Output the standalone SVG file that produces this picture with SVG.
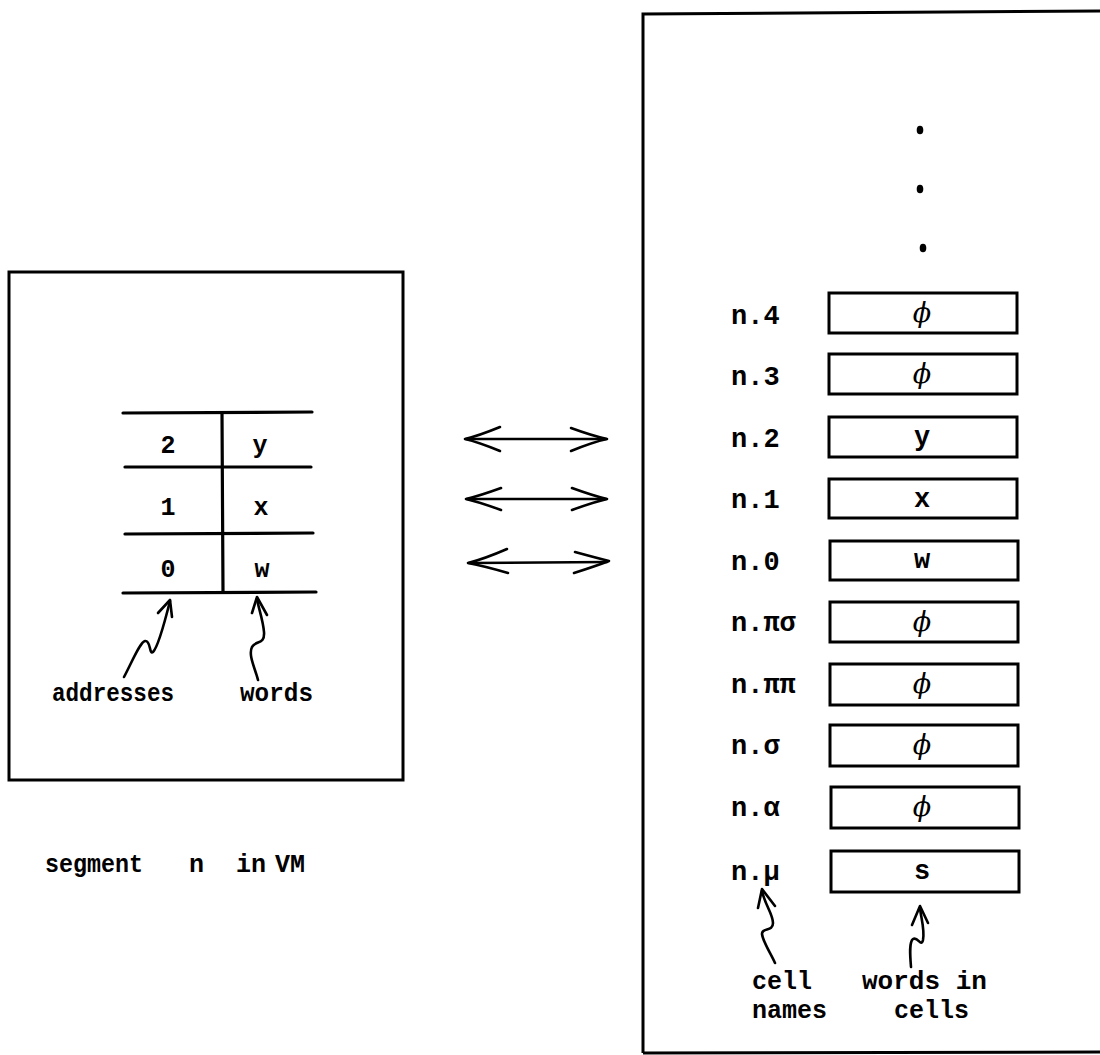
<svg xmlns="http://www.w3.org/2000/svg" width="1100" height="1055" viewBox="0 0 1100 1055">
<style>
  .frame { fill: none; stroke: #000; stroke-width: 3; }
  .rule { fill: none; stroke: #000; stroke-width: 3.2; stroke-linecap: round; }
  .cell { fill: #fff; stroke: #000; stroke-width: 3; }
  .ink { fill: none; stroke: #000; stroke-width: 2.6; stroke-linecap: round; stroke-linejoin: round; }
  .tl { font-family: "Liberation Mono", "DejaVu Sans Mono", monospace; font-weight: bold; font-size: 25px; fill: #000; }
  .tr { font-family: "Liberation Mono", "DejaVu Sans Mono", monospace; font-weight: bold; font-size: 27px; fill: #000; }
  .tb { font-family: "Liberation Mono", "DejaVu Sans Mono", monospace; font-weight: bold; font-size: 25px; fill: #000; }
  .c { text-anchor: middle; }
  .phi { font-family: "DejaVu Serif", serif; font-style: italic; font-size: 27px; fill: #000; text-anchor: middle; }
</style>
<rect width="1100" height="1055" fill="#fff"/>

<g id="segment">
  <rect class="frame" x="9" y="272" width="394" height="508"/>
  <g id="table">
    <line class="rule" x1="123" y1="413" x2="312" y2="412"/>
    <line class="rule" x1="125" y1="467" x2="311" y2="467"/>
    <line class="rule" x1="125" y1="534" x2="313" y2="533"/>
    <line class="rule" x1="123" y1="593" x2="316" y2="592"/>
    <line class="rule" x1="222" y1="413" x2="223" y2="592"/>
    <text class="tl c" x="168" y="453">2</text>
    <text class="tl c" x="260" y="453">y</text>
    <text class="tl c" x="168" y="515">1</text>
    <text class="tl c" x="261" y="515">x</text>
    <text class="tl c" x="168" y="577">0</text>
    <text class="tl c" x="262" y="577">w</text>
  </g>
  <g id="addresses-label">
    <path class="ink" d="M124,677 C132,662 140,642 145,641 C151,640 149,655 153,652 C157,648 164,625 170,601"/>
    <path class="ink" d="M158,613 L170,600 L172,617"/>
    <text class="tl" x="52" y="701" textLength="122" lengthAdjust="spacingAndGlyphs">addresses</text>
  </g>
  <g id="words-label">
    <path class="ink" d="M258,680 C255,668 248,655 252,647 C256,640 265,645 264,632 C263,620 259,610 257,599"/>
    <path class="ink" d="M252,613 L257,597 L267,615"/>
    <text class="tl" x="240" y="701" textLength="73" lengthAdjust="spacingAndGlyphs">words</text>
  </g>
  <g id="caption">
    <text class="tl" x="45" y="872" textLength="98" lengthAdjust="spacingAndGlyphs">segment</text>
    <text class="tl" x="189" y="872">n</text>
    <text class="tl" x="236" y="872">in</text>
    <text class="tl" x="275" y="872">VM</text>
  </g>
</g>

<g id="connectors">
  <g id="arrow1">
    <line class="ink" x1="466" y1="439" x2="606" y2="439"/>
    <path class="ink" d="M500,427 Q478,436 465,439 Q478,442 500,451"/>
    <path class="ink" d="M571,428 Q593,436 607,439 Q593,442 571,451"/>
  </g>
  <g id="arrow2">
    <line class="ink" x1="467" y1="499" x2="606" y2="499"/>
    <path class="ink" d="M501,488 Q479,496 466,499 Q479,502 501,510"/>
    <path class="ink" d="M572,488 Q594,496 607,499 Q594,502 572,510"/>
  </g>
  <g id="arrow3">
    <line class="ink" x1="469" y1="563" x2="607" y2="562"/>
    <path class="ink" d="M507,549 Q484,559 468,563 Q484,566 508,573"/>
    <path class="ink" d="M575,552 Q597,558 609,561 Q596,566 574,573"/>
  </g>
</g>

<g id="memory">
  <path class="frame" d="M643,1053 L643,14 L1102,11 M643,1053 L1102,1052"/>
  <ellipse cx="920" cy="130" rx="3.3" ry="4.3" fill="#000"/>
  <ellipse cx="920" cy="189" rx="3.3" ry="4.3" fill="#000"/>
  <ellipse cx="923" cy="248" rx="3.3" ry="4.3" fill="#000"/>

  <g id="cell-n4">
    <text class="tr" x="731" y="324">n.4</text>
    <rect class="cell" x="829" y="293" width="188" height="40"/>
    <text class="phi" x="922" y="322">ϕ</text>
  </g>
  <g id="cell-n3">
    <text class="tr" x="731" y="385">n.3</text>
    <rect class="cell" x="829" y="354" width="188" height="40"/>
    <text class="phi" x="922" y="383">ϕ</text>
  </g>
  <g id="cell-n2">
    <text class="tr" x="731" y="447">n.2</text>
    <rect class="cell" x="829" y="417" width="188" height="40"/>
    <text class="tr c" x="922" y="445">y</text>
  </g>
  <g id="cell-n1">
    <text class="tr" x="731" y="508">n.1</text>
    <rect class="cell" x="829" y="479" width="188" height="39"/>
    <text class="tr c" x="922" y="507">x</text>
  </g>
  <g id="cell-n0">
    <text class="tr" x="731" y="570">n.0</text>
    <rect class="cell" x="830" y="541" width="188" height="39"/>
    <text class="tr c" x="922" y="568">w</text>
  </g>
  <g id="cell-npisigma">
    <text class="tr" x="731" y="631">n.πσ</text>
    <rect class="cell" x="830" y="602" width="188" height="40"/>
    <text class="phi" x="922" y="631">ϕ</text>
  </g>
  <g id="cell-npipi">
    <text class="tr" x="731" y="693">n.ππ</text>
    <rect class="cell" x="830" y="664" width="188" height="41"/>
    <text class="phi" x="922" y="693">ϕ</text>
  </g>
  <g id="cell-nsigma">
    <text class="tr" x="731" y="754">n.σ</text>
    <rect class="cell" x="830" y="725" width="188" height="41"/>
    <text class="phi" x="922" y="754">ϕ</text>
  </g>
  <g id="cell-nalpha">
    <text class="tr" x="731" y="816">n.α</text>
    <rect class="cell" x="831" y="787" width="188" height="41"/>
    <text class="phi" x="922" y="816">ϕ</text>
  </g>
  <g id="cell-nmu">
    <text class="tr" x="731" y="880">n.μ</text>
    <rect class="cell" x="831" y="851" width="188" height="41"/>
    <text class="tr c" x="922" y="879">s</text>
  </g>

  <g id="cell-names-label">
    <path class="ink" d="M775,963 C770,952 763,942 762,934 C762,927 773,932 773,923 C773,914 765,905 762,891"/>
    <path class="ink" d="M758,908 L762,889 L775,906"/>
    <text class="tb" x="752" y="989">cell</text>
    <text class="tb" x="752" y="1018">names</text>
  </g>
  <g id="words-in-cells-label">
    <path class="ink" d="M911,967 C910,955 909,942 913,939 C918,936 921,948 923,940 C925,930 921,918 920,908"/>
    <path class="ink" d="M912,925 L920,906 L928,923"/>
    <text class="tb" x="862" y="989" textLength="125" lengthAdjust="spacingAndGlyphs">words in</text>
    <text class="tb" x="894" y="1018">cells</text>
  </g>
</g>
</svg>
